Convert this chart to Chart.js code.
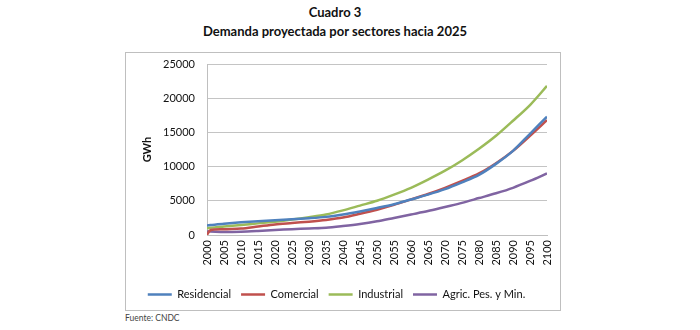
<!DOCTYPE html>
<html>
<head>
<meta charset="utf-8">
<script src="https://cdn.jsdelivr.net/npm/chart.js@4"></script>
<style>
  body { margin: 0; width: 700px; height: 330px; background: #fff; position: relative; font-family: Lato, sans-serif; }
  .title { position: absolute; left: 0; width: 670px; text-align: center; font-weight: bold; font-size: 13px; color: #111; }
  #box { position: absolute; left: 125px; top: 52px; width: 434px; height: 257px; border: 1px solid #bfbfbf; }
  #fuente { position: absolute; left: 125px; top: 313px; font-size: 8.5px; color: #444; }
</style>
</head>
<body>
<div class="title" style="top: 4px;">Cuadro 3</div>
<div class="title" style="top: 23px;">Demanda proyectada por sectores hacia 2025</div>
<div id="box"><canvas id="demandChart" width="434" height="257"></canvas></div>
<div id="fuente">Fuente: CNDC</div>
<script>
'use strict';

let years = [2000, 2001, 2005, 2010, 2015, 2020, 2025, 2030, 2035, 2040, 2045, 2050, 2055, 2060, 2065, 2070, 2075, 2080, 2085, 2090, 2095, 2100];

let residencial = [1400, 1450, 1650, 1850, 2000, 2150, 2300, 2450, 2650, 3000, 3450, 3950, 4500, 5200, 5900, 6700, 7700, 8800, 10400, 12300, 14800, 17300];
let comercial = [0, 700, 850, 950, 1250, 1550, 1750, 1950, 2200, 2550, 3100, 3700, 4400, 5200, 6000, 6900, 7900, 9000, 10500, 12300, 14500, 16800];
let industrial = [1000, 1050, 1250, 1450, 1700, 1950, 2250, 2600, 3000, 3600, 4300, 5000, 5900, 6900, 8100, 9400, 10900, 12600, 14500, 16700, 19000, 21800];
let agricola = [500, 500, 450, 490, 600, 735, 850, 950, 1050, 1300, 1600, 2000, 2500, 3000, 3500, 4100, 4700, 5400, 6100, 6900, 7900, 9000];

let seriesNames = ['Residencial', 'Comercial', 'Industrial', 'Agric. Pes. y Min.'];
let seriesColors = ['#4f81bd', '#c0504d', '#9bbb59', '#8064a2'];

function toPoints(values) {
  let points = [];
  for (let i = 0; i < years.length; i++) {
    points.push({ x: years[i], y: values[i] });
  }
  return points;
}

// drop the automatic label overhang so the layout padding below decides the plot edges
function clearPadding(scale) {
  scale.paddingTop = 0;
  scale.paddingBottom = 0;
  scale.paddingLeft = 0;
  scale.paddingRight = 0;
}

function renderChart() {
  const ctx = document.getElementById('demandChart');
  let allValues = [residencial, comercial, industrial, agricola];
  let datasets = [];

  for (let i = 0; i < allValues.length; i++) {
    datasets.push({
      label: seriesNames[i],
      data: toPoints(allValues[i]),
      borderColor: seriesColors[i],
      backgroundColor: seriesColors[i],
      borderWidth: 2.5,
      pointRadius: 0,
      tension: 0.3
    });
  }

  let config = {
    type: 'line',
    data: { datasets: datasets },
    options: {
      responsive: false,
      animation: false,
      layout: { padding: { top: 11, right: 13, left: 0, bottom: 0 } },
      plugins: {
        tooltip: { enabled: false },
        legend: {
          position: 'bottom',
          labels: {
            usePointStyle: true,
            pointStyle: 'line',
            pointStyleWidth: 24,
            padding: 10,
            color: '#111',
            font: { family: 'Lato', size: 11 }
          }
        }
      },
      scales: {
        x: {
          type: 'linear',
          min: 2000,
          max: 2100,
          afterFit: function (scale) {
            scale.height = 44;
            clearPadding(scale);
          },
          grid: { display: false, drawTicks: false },
          border: { color: '#bfbfbf' },
          ticks: {
            stepSize: 5,
            minRotation: 90,
            maxRotation: 90,
            padding: 5,
            color: '#111',
            font: { family: 'Lato', size: 11 },
            callback: function (value) { return String(value); }
          }
        },
        y: {
          min: 0,
          max: 25000,
          afterFit: function (scale) {
            scale.width = 81;
            clearPadding(scale);
          },
          grid: { color: '#c4c4c4', drawTicks: false },
          border: { color: '#bfbfbf' },
          title: {
            display: true,
            text: 'GWh',
            color: '#111',
            padding: { top: 15, bottom: 0 },
            font: { family: 'Lato', size: 11, weight: 'bold' }
          },
          ticks: {
            stepSize: 5000,
            padding: 12,
            color: '#111',
            font: { family: 'Lato', size: 11 },
            callback: function (value) { return String(value); }
          }
        }
      }
    }
  };
  let myChart = new Chart(ctx, config);
}

renderChart();
</script>
</body>
</html>
